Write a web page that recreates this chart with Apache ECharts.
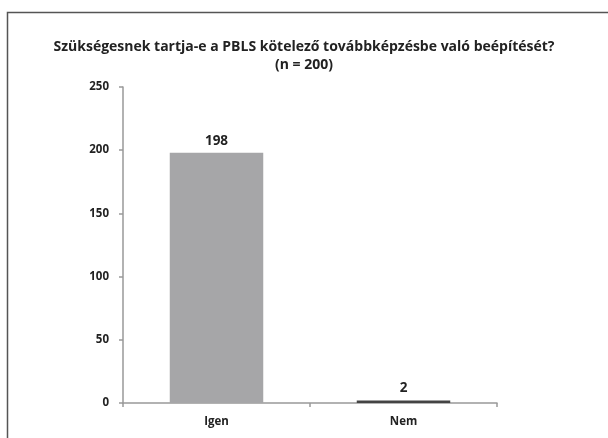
<!DOCTYPE html>
<html>
<head>
<meta charset="utf-8">
<script src="https://cdn.jsdelivr.net/npm/echarts@6/dist/echarts.min.js"></script>
<style>
  html, body { margin: 0; padding: 0; background: #fff; }
  #chart { width: 608px; height: 438px; }
</style>
</head>
<body>
<div id="chart"></div>
<script>
// Data
const categories = ['Igen', 'Nem'];
const values = [198, 2];
const barColors = ['#a6a6a8', '#444444'];
const yTicks = [0, 50, 100, 150, 200, 250];

const chart = echarts.init(document.getElementById('chart'));

const font = '"Open Sans", "Noto Sans", sans-serif';

const option = {
    backgroundColor: '#fff',
    animation: false,
    title: {
        text: 'Szükségesnek tartja-e a PBLS kötelező továbbképzésbe való beépítését?\n(n = 200)',
        left: 'center',
        top: 33,
        textStyle: {
            fontFamily: font,
            fontSize: 14,
            fontWeight: 'bold',
            color: '#222',
            lineHeight: 18
        }
    },
    graphic: [{
        type: 'rect',
        shape: { x: 7.5, y: 12.5, width: 700, height: 500 },
        style: { fill: 'none', stroke: '#555', lineWidth: 1.5 },
        silent: true
    }],
    grid: { left: 123, right: 111, top: 87, bottom: 35 },
    xAxis: {
        type: 'category',
        data: categories,
        axisLine: { lineStyle: { color: '#999', width: 1.5 } },
        axisTick: { show: true, length: 4, lineStyle: { color: '#999', width: 1.5 } },
        axisLabel: {
            fontFamily: font, fontSize: 11.5, fontWeight: 'bold', color: '#222', margin: 13
        }
    },
    yAxis: {
        type: 'value',
        min: yTicks[0],
        max: yTicks[yTicks.length - 1],
        interval: 50,
        splitLine: { show: false },
        axisLine: { show: true, lineStyle: { color: '#999', width: 1.5 } },
        axisTick: { show: true, length: 4, lineStyle: { color: '#999', width: 1.5 } },
        axisLabel: {
            fontFamily: font, fontSize: 11.5, fontWeight: 'bold', color: '#222', margin: 14
        }
    },
    series: [{
        type: 'bar',
        data: values.map((v, i) => ({ value: v, itemStyle: { color: barColors[i] } })),
        barWidth: '50%',
        label: {
            show: true,
            position: 'top',
            distance: 5,
            fontFamily: font,
            fontSize: 13.5,
            fontWeight: 'bold',
            color: '#222'
        }
    }]
};

chart.setOption(option);
</script>
</body>
</html>
